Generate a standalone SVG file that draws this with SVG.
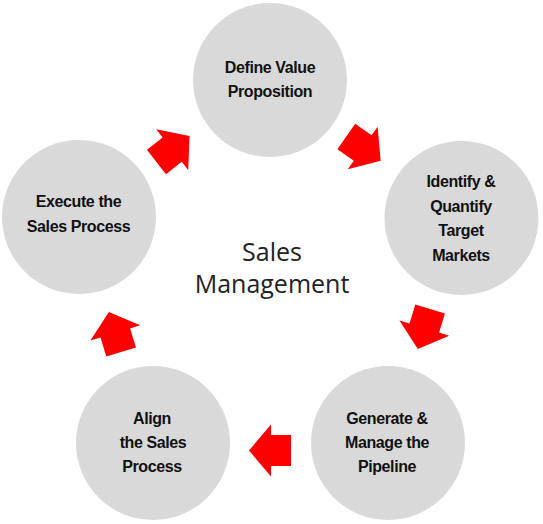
<svg xmlns="http://www.w3.org/2000/svg" width="543" height="524" viewBox="0 0 543 524">
<style>
.c{fill:#d9d9d9}
.t{font-family:"Liberation Sans",Arial,sans-serif;font-weight:bold;font-size:16px;letter-spacing:-0.4px;fill:#111;text-anchor:middle}
.a{fill:#ff0000}
.m{font-family:"Open Sans","Noto Sans",sans-serif;font-size:25px;fill:#222;text-anchor:middle}
</style>
<defs>
<polygon id="arr" points="21,0 -1,-26 -1,-15.5 -21,-15.5 -21,15.5 -1,15.5 -1,26"/>
</defs>
<rect width="543" height="524" fill="#fff"/>
<g id="n1"><circle class="c" cx="270" cy="80" r="77"/><text class="t" x="270" y="73">Define Value</text><text class="t" x="270" y="97">Proposition</text></g>
<g id="n2"><circle class="c" cx="461.5" cy="218" r="77"/><text class="t" x="461" y="187">Identify &amp;</text><text class="t" x="461" y="212">Quantify</text><text class="t" x="461" y="236">Target</text><text class="t" x="461" y="261">Markets</text></g>
<g id="n3"><circle class="c" cx="388" cy="443" r="77"/><text class="t" x="387" y="424">Generate &amp;</text><text class="t" x="387" y="448">Manage the</text><text class="t" x="387" y="472">Pipeline</text></g>
<g id="n4"><circle class="c" cx="153" cy="443" r="77"/><text class="t" x="152" y="424">Align</text><text class="t" x="153" y="448">the Sales</text><text class="t" x="152" y="472">Process</text></g>
<g id="n5"><circle class="c" cx="79" cy="217" r="77"/><text class="t" x="78.5" y="207">Execute the</text><text class="t" x="78.5" y="232">Sales Process</text></g>
<g id="center"><text class="m" x="272" y="261">Sales</text><text class="m" x="272" y="293">Management</text></g>
<g id="connectors">
<use href="#arr" class="a" transform="translate(363.5,148.6) rotate(35)"/>
<use href="#arr" class="a" transform="translate(424,329) rotate(107)"/>
<use href="#arr" class="a" transform="translate(270,450.5) rotate(180)"/>
<use href="#arr" class="a" transform="translate(115,332) rotate(-107)"/>
<use href="#arr" class="a" transform="translate(173,149) rotate(-38)"/>
</g>
</svg>
